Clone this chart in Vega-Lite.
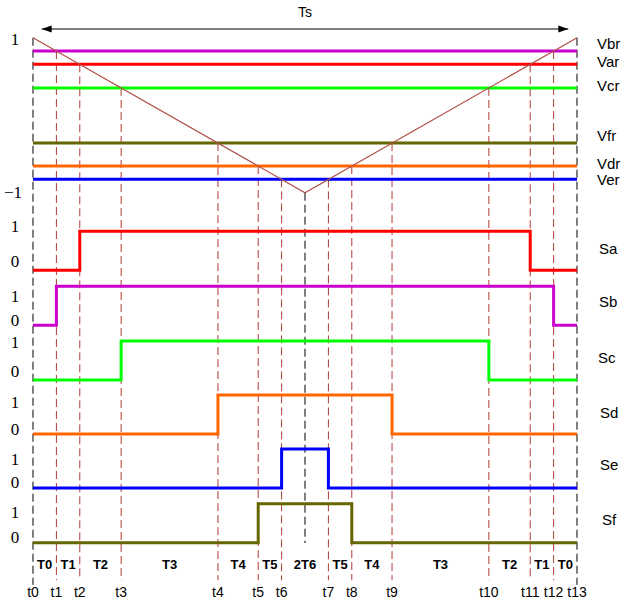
{
  "$schema": "https://vega.github.io/schema/vega-lite/v6.json",
  "width": 624,
  "height": 600,
  "padding": 0,
  "autosize": {"type": "none"},
  "config": {"view": {"stroke": null}, "text": {"font": "Liberation Sans"}},
  "datasets": {
    "carrier": [{"t": 0, "v": 1}, {"t": 0.5, "v": -1}, {"t": 1, "v": 1}],
    "refs": [
      {"name": "Vbr", "level": 0.828},
      {"name": "Var", "level": 0.656},
      {"name": "Vcr", "level": 0.352},
      {"name": "Vfr", "level": -0.36},
      {"name": "Vdr", "level": -0.656},
      {"name": "Ver", "level": -0.828}
    ],
    "instants": [
      {"name": "t0", "t": 0, "level": 1},
      {"name": "t1", "t": 0.043, "level": 0.828},
      {"name": "t2", "t": 0.086, "level": 0.656},
      {"name": "t3", "t": 0.162, "level": 0.352},
      {"name": "t4", "t": 0.34, "level": -0.36},
      {"name": "t5", "t": 0.414, "level": -0.656},
      {"name": "t6", "t": 0.457, "level": -0.828},
      {"name": "t7", "t": 0.543, "level": -0.828},
      {"name": "t8", "t": 0.586, "level": -0.656},
      {"name": "t9", "t": 0.66, "level": -0.36},
      {"name": "t10", "t": 0.838, "level": 0.352},
      {"name": "t11", "t": 0.914, "level": 0.656},
      {"name": "t12", "t": 0.957, "level": 0.828},
      {"name": "t13", "t": 1, "level": 1}
    ],
    "middle": [{"t": 0.5, "level": -1}],
    "intervals": [
      {"label": "T0", "t": 0.0215},
      {"label": "T1", "t": 0.0645},
      {"label": "T2", "t": 0.124},
      {"label": "T3", "t": 0.251},
      {"label": "T4", "t": 0.377},
      {"label": "T5", "t": 0.4355},
      {"label": "2T6", "t": 0.5},
      {"label": "T5", "t": 0.5645},
      {"label": "T4", "t": 0.623},
      {"label": "T3", "t": 0.749},
      {"label": "T2", "t": 0.876},
      {"label": "T1", "t": 0.9355},
      {"label": "T0", "t": 0.9785}
    ],
    "period": [{"from": 0.016, "to": 0.984, "label": "Ts"}],
    "sigs": [{"sig": "Sa"}, {"sig": "Sb"}, {"sig": "Sc"}, {"sig": "Sd"}, {"sig": "Se"}, {"sig": "Sf"}],
    "signals": [
      {"sig": "Sa", "t": 0, "s": 0}, {"sig": "Sa", "t": 0.086, "s": 1}, {"sig": "Sa", "t": 0.914, "s": 0}, {"sig": "Sa", "t": 1, "s": 0},
      {"sig": "Sb", "t": 0, "s": 0}, {"sig": "Sb", "t": 0.043, "s": 1}, {"sig": "Sb", "t": 0.957, "s": 0}, {"sig": "Sb", "t": 1, "s": 0},
      {"sig": "Sc", "t": 0, "s": 0}, {"sig": "Sc", "t": 0.162, "s": 1}, {"sig": "Sc", "t": 0.838, "s": 0}, {"sig": "Sc", "t": 1, "s": 0},
      {"sig": "Sd", "t": 0, "s": 0}, {"sig": "Sd", "t": 0.34, "s": 1}, {"sig": "Sd", "t": 0.66, "s": 0}, {"sig": "Sd", "t": 1, "s": 0},
      {"sig": "Se", "t": 0, "s": 0}, {"sig": "Se", "t": 0.457, "s": 1}, {"sig": "Se", "t": 0.543, "s": 0}, {"sig": "Se", "t": 1, "s": 0},
      {"sig": "Sf", "t": 0, "s": 0}, {"sig": "Sf", "t": 0.414, "s": 1}, {"sig": "Sf", "t": 0.586, "s": 0}, {"sig": "Sf", "t": 1, "s": 0}
    ]
  },
  "layer": [
    {
      "layer": [
        {
          "data": {"name": "instants"},
          "transform": [{"filter": "datum.t > 0 && datum.t < 1"}],
          "mark": {"type": "rule", "color": "#b03a36", "strokeWidth": 1, "strokeDash": [8, 4]},
          "encoding": {
            "x": {"field": "t", "type": "quantitative", "scale": {"domain": [-0.06066, 1.0864], "nice": false, "zero": false}, "axis": null},
            "y": {"field": "level", "type": "quantitative", "scale": {"domain": [-6.2554, 1.4865], "nice": false, "zero": false}, "axis": null},
            "y2": {"datum": -6.0}
          }
        },
        {
          "data": {"name": "instants"},
          "transform": [{"filter": "datum.t == 0 || datum.t == 1"}],
          "mark": {"type": "rule", "color": "#000000", "strokeWidth": 1, "strokeDash": [8, 4]},
          "encoding": {
            "x": {"field": "t", "type": "quantitative", "scale": {"domain": [-0.06066, 1.0864], "nice": false, "zero": false}, "axis": null},
            "y": {"field": "level", "type": "quantitative", "scale": {"domain": [-6.2554, 1.4865], "nice": false, "zero": false}, "axis": null},
            "y2": {"datum": -6.06}
          }
        },
        {
          "data": {"name": "middle"},
          "mark": {"type": "rule", "color": "#000000", "strokeWidth": 1, "strokeDash": [8, 4]},
          "encoding": {
            "x": {"field": "t", "type": "quantitative", "scale": {"domain": [-0.06066, 1.0864], "nice": false, "zero": false}, "axis": null},
            "y": {"field": "level", "type": "quantitative", "scale": {"domain": [-6.2554, 1.4865], "nice": false, "zero": false}, "axis": null},
            "y2": {"datum": -5.52}
          }
        },
        {
          "data": {"name": "refs"},
          "mark": {"type": "rule", "strokeWidth": 3},
          "encoding": {
            "x": {"datum": 0, "type": "quantitative", "scale": {"domain": [-0.06066, 1.0864], "nice": false, "zero": false}, "axis": null},
            "x2": {"datum": 1},
            "y": {"field": "level", "type": "quantitative", "scale": {"domain": [-6.2554, 1.4865], "nice": false, "zero": false}, "axis": null},
            "color": {"field": "name", "type": "nominal", "scale": {"domain": ["Vbr", "Var", "Vcr", "Vfr", "Vdr", "Ver"], "range": ["#cc00cc", "#ff0000", "#00ff00", "#666600", "#ff6600", "#0000ff"]}, "legend": null}
          }
        },
        {
          "data": {"name": "carrier"},
          "mark": {"type": "line", "color": "#b0504a", "strokeWidth": 1.2},
          "encoding": {
            "x": {"field": "t", "type": "quantitative", "scale": {"domain": [-0.06066, 1.0864], "nice": false, "zero": false}, "axis": null},
            "y": {"field": "v", "type": "quantitative", "scale": {"domain": [-6.2554, 1.4865], "nice": false, "zero": false}, "axis": null}
          }
        },
        {
          "data": {"name": "period"},
          "mark": {"type": "rule", "color": "#555555", "strokeWidth": 1.5},
          "encoding": {
            "x": {"field": "from", "type": "quantitative", "scale": {"domain": [-0.06066, 1.0864], "nice": false, "zero": false}, "axis": null},
            "x2": {"field": "to"},
            "y": {"datum": 1.112, "type": "quantitative", "scale": {"domain": [-6.2554, 1.4865], "nice": false, "zero": false}, "axis": null}
          }
        },
        {
          "data": {"name": "period"},
          "mark": {"type": "point", "shape": "M0,0L2,-0.7L2,0.7Z", "size": 100, "filled": true, "color": "#000000", "opacity": 1, "strokeWidth": 0},
          "encoding": {
            "x": {"field": "from", "type": "quantitative", "scale": {"domain": [-0.06066, 1.0864], "nice": false, "zero": false}, "axis": null},
            "y": {"datum": 1.112, "type": "quantitative", "scale": {"domain": [-6.2554, 1.4865], "nice": false, "zero": false}, "axis": null}
          }
        },
        {
          "data": {"name": "period"},
          "mark": {"type": "point", "shape": "M0,0L-2,-0.7L-2,0.7Z", "size": 100, "filled": true, "color": "#000000", "opacity": 1, "strokeWidth": 0},
          "encoding": {
            "x": {"field": "to", "type": "quantitative", "scale": {"domain": [-0.06066, 1.0864], "nice": false, "zero": false}, "axis": null},
            "y": {"datum": 1.112, "type": "quantitative", "scale": {"domain": [-6.2554, 1.4865], "nice": false, "zero": false}, "axis": null}
          }
        },
        {
          "data": {"name": "period"},
          "mark": {"type": "text", "fontSize": 14, "align": "center", "baseline": "middle", "color": "#000000"},
          "encoding": {
            "x": {"datum": 0.5, "type": "quantitative", "scale": {"domain": [-0.06066, 1.0864], "nice": false, "zero": false}, "axis": null},
            "y": {"datum": 1.315, "type": "quantitative", "scale": {"domain": [-6.2554, 1.4865], "nice": false, "zero": false}, "axis": null},
            "text": {"field": "label"}
          }
        },
        {
          "data": {"name": "refs"},
          "transform": [{"filter": "datum.name == 'Vbr' || datum.name == 'Vfr'"}],
          "mark": {"type": "text", "fontSize": 15, "align": "left", "baseline": "middle", "dx": 20, "dy": -7, "color": "#000000"},
          "encoding": {
            "x": {"datum": 1, "type": "quantitative", "scale": {"domain": [-0.06066, 1.0864], "nice": false, "zero": false}, "axis": null},
            "y": {"field": "level", "type": "quantitative", "scale": {"domain": [-6.2554, 1.4865], "nice": false, "zero": false}, "axis": null},
            "text": {"field": "name"}
          }
        },
        {
          "data": {"name": "refs"},
          "transform": [{"filter": "datum.name == 'Var' || datum.name == 'Vcr' || datum.name == 'Vdr'"}],
          "mark": {"type": "text", "fontSize": 15, "align": "left", "baseline": "middle", "dx": 20, "dy": -2, "color": "#000000"},
          "encoding": {
            "x": {"datum": 1, "type": "quantitative", "scale": {"domain": [-0.06066, 1.0864], "nice": false, "zero": false}, "axis": null},
            "y": {"field": "level", "type": "quantitative", "scale": {"domain": [-6.2554, 1.4865], "nice": false, "zero": false}, "axis": null},
            "text": {"field": "name"}
          }
        },
        {
          "data": {"name": "refs"},
          "transform": [{"filter": "datum.name == 'Ver'"}],
          "mark": {"type": "text", "fontSize": 15, "align": "left", "baseline": "middle", "dx": 20, "dy": 1, "color": "#000000"},
          "encoding": {
            "x": {"datum": 1, "type": "quantitative", "scale": {"domain": [-0.06066, 1.0864], "nice": false, "zero": false}, "axis": null},
            "y": {"field": "level", "type": "quantitative", "scale": {"domain": [-6.2554, 1.4865], "nice": false, "zero": false}, "axis": null},
            "text": {"field": "name"}
          }
        },
        {
          "data": {"name": "middle"},
          "mark": {"type": "text", "text": "1", "font": "Liberation Serif", "fontSize": 17, "align": "center", "baseline": "middle", "dx": -18, "dy": 2, "color": "#000000"},
          "encoding": {
            "x": {"datum": 0, "type": "quantitative", "scale": {"domain": [-0.06066, 1.0864], "nice": false, "zero": false}, "axis": null},
            "y": {"datum": 1, "type": "quantitative", "scale": {"domain": [-6.2554, 1.4865], "nice": false, "zero": false}, "axis": null}
          }
        },
        {
          "data": {"name": "middle"},
          "mark": {"type": "text", "text": "−1", "font": "Liberation Serif", "fontSize": 17, "align": "center", "baseline": "middle", "dx": -20, "dy": 0, "color": "#000000"},
          "encoding": {
            "x": {"datum": 0, "type": "quantitative", "scale": {"domain": [-0.06066, 1.0864], "nice": false, "zero": false}, "axis": null},
            "y": {"datum": -1, "type": "quantitative", "scale": {"domain": [-6.2554, 1.4865], "nice": false, "zero": false}, "axis": null}
          }
        },
        {
          "data": {"name": "intervals"},
          "mark": {"type": "text", "fontSize": 13, "fontWeight": "bold", "align": "center", "baseline": "middle", "color": "#000000"},
          "encoding": {
            "x": {"field": "t", "type": "quantitative", "scale": {"domain": [-0.06066, 1.0864], "nice": false, "zero": false}, "axis": null},
            "y": {"datum": -5.804, "type": "quantitative", "scale": {"domain": [-6.2554, 1.4865], "nice": false, "zero": false}, "axis": null},
            "text": {"field": "label"}
          }
        },
        {
          "data": {"name": "instants"},
          "mark": {"type": "text", "fontSize": 14, "align": "center", "baseline": "middle", "color": "#000000"},
          "encoding": {
            "x": {"field": "t", "type": "quantitative", "scale": {"domain": [-0.06066, 1.0864], "nice": false, "zero": false}, "axis": null},
            "y": {"datum": -6.161, "type": "quantitative", "scale": {"domain": [-6.2554, 1.4865], "nice": false, "zero": false}, "axis": null},
            "text": {"field": "name"}
          }
        }
      ]
    },
    {
      "layer": [
        {
          "data": {"name": "signals"},
          "transform": [{"filter": "datum.sig == 'Sa'"}],
          "mark": {"type": "line", "interpolate": "step-after", "color": "#ff0000", "strokeWidth": 3},
          "encoding": {
            "x": {"field": "t", "type": "quantitative", "scale": {"domain": [-0.06066, 1.0864], "nice": false, "zero": false}, "axis": null},
            "y": {"field": "s", "type": "quantitative", "scale": {"domain": [-8.4538, 6.9308], "nice": false, "zero": false}, "axis": null}
          }
        },
        {
          "data": {"name": "sigs"},
          "transform": [{"filter": "datum.sig == 'Sa'"}],
          "mark": {"type": "text", "fontSize": 15, "align": "left", "baseline": "middle", "dx": 22, "dy": -2, "color": "#000000"},
          "encoding": {
            "x": {"datum": 1, "type": "quantitative", "scale": {"domain": [-0.06066, 1.0864], "nice": false, "zero": false}, "axis": null},
            "y": {"datum": 0.5, "type": "quantitative", "scale": {"domain": [-8.4538, 6.9308], "nice": false, "zero": false}, "axis": null},
            "text": {"field": "sig"}
          }
        },
        {
          "data": {"name": "sigs"},
          "transform": [{"filter": "datum.sig == 'Sa'"}],
          "mark": {"type": "text", "text": "1", "font": "Liberation Serif", "fontSize": 17, "align": "center", "baseline": "middle", "dx": -18, "dy": -4, "color": "#000000"},
          "encoding": {
            "x": {"datum": 0, "type": "quantitative", "scale": {"domain": [-0.06066, 1.0864], "nice": false, "zero": false}, "axis": null},
            "y": {"datum": 1, "type": "quantitative", "scale": {"domain": [-8.4538, 6.9308], "nice": false, "zero": false}, "axis": null}
          }
        },
        {
          "data": {"name": "sigs"},
          "transform": [{"filter": "datum.sig == 'Sa'"}],
          "mark": {"type": "text", "text": "0", "font": "Liberation Serif", "fontSize": 17, "align": "center", "baseline": "middle", "dx": -18, "dy": -8, "color": "#000000"},
          "encoding": {
            "x": {"datum": 0, "type": "quantitative", "scale": {"domain": [-0.06066, 1.0864], "nice": false, "zero": false}, "axis": null},
            "y": {"datum": 0, "type": "quantitative", "scale": {"domain": [-8.4538, 6.9308], "nice": false, "zero": false}, "axis": null}
          }
        }
      ]
    },
    {
      "layer": [
        {
          "data": {"name": "signals"},
          "transform": [{"filter": "datum.sig == 'Sb'"}],
          "mark": {"type": "line", "interpolate": "step-after", "color": "#cc00cc", "strokeWidth": 3},
          "encoding": {
            "x": {"field": "t", "type": "quantitative", "scale": {"domain": [-0.06066, 1.0864], "nice": false, "zero": false}, "axis": null},
            "y": {"field": "s", "type": "quantitative", "scale": {"domain": [-7.0436, 8.341], "nice": false, "zero": false}, "axis": null}
          }
        },
        {
          "data": {"name": "sigs"},
          "transform": [{"filter": "datum.sig == 'Sb'"}],
          "mark": {"type": "text", "fontSize": 15, "align": "left", "baseline": "middle", "dx": 22, "dy": -4, "color": "#000000"},
          "encoding": {
            "x": {"datum": 1, "type": "quantitative", "scale": {"domain": [-0.06066, 1.0864], "nice": false, "zero": false}, "axis": null},
            "y": {"datum": 0.5, "type": "quantitative", "scale": {"domain": [-7.0436, 8.341], "nice": false, "zero": false}, "axis": null},
            "text": {"field": "sig"}
          }
        },
        {
          "data": {"name": "sigs"},
          "transform": [{"filter": "datum.sig == 'Sb'"}],
          "mark": {"type": "text", "text": "1", "font": "Liberation Serif", "fontSize": 17, "align": "center", "baseline": "middle", "dx": -18, "dy": 11, "color": "#000000"},
          "encoding": {
            "x": {"datum": 0, "type": "quantitative", "scale": {"domain": [-0.06066, 1.0864], "nice": false, "zero": false}, "axis": null},
            "y": {"datum": 1, "type": "quantitative", "scale": {"domain": [-7.0436, 8.341], "nice": false, "zero": false}, "axis": null}
          }
        },
        {
          "data": {"name": "sigs"},
          "transform": [{"filter": "datum.sig == 'Sb'"}],
          "mark": {"type": "text", "text": "0", "font": "Liberation Serif", "fontSize": 17, "align": "center", "baseline": "middle", "dx": -18, "dy": -4, "color": "#000000"},
          "encoding": {
            "x": {"datum": 0, "type": "quantitative", "scale": {"domain": [-0.06066, 1.0864], "nice": false, "zero": false}, "axis": null},
            "y": {"datum": 0, "type": "quantitative", "scale": {"domain": [-7.0436, 8.341], "nice": false, "zero": false}, "axis": null}
          }
        }
      ]
    },
    {
      "layer": [
        {
          "data": {"name": "signals"},
          "transform": [{"filter": "datum.sig == 'Sc'"}],
          "mark": {"type": "line", "interpolate": "step-after", "color": "#00ff00", "strokeWidth": 3},
          "encoding": {
            "x": {"field": "t", "type": "quantitative", "scale": {"domain": [-0.06066, 1.0864], "nice": false, "zero": false}, "axis": null},
            "y": {"field": "s", "type": "quantitative", "scale": {"domain": [-5.641, 9.7436], "nice": false, "zero": false}, "axis": null}
          }
        },
        {
          "data": {"name": "sigs"},
          "transform": [{"filter": "datum.sig == 'Sc'"}],
          "mark": {"type": "text", "fontSize": 15, "align": "left", "baseline": "middle", "dx": 21, "dy": -3, "color": "#000000"},
          "encoding": {
            "x": {"datum": 1, "type": "quantitative", "scale": {"domain": [-0.06066, 1.0864], "nice": false, "zero": false}, "axis": null},
            "y": {"datum": 0.5, "type": "quantitative", "scale": {"domain": [-5.641, 9.7436], "nice": false, "zero": false}, "axis": null},
            "text": {"field": "sig"}
          }
        },
        {
          "data": {"name": "sigs"},
          "transform": [{"filter": "datum.sig == 'Sc'"}],
          "mark": {"type": "text", "text": "1", "font": "Liberation Serif", "fontSize": 17, "align": "center", "baseline": "middle", "dx": -18, "dy": 2, "color": "#000000"},
          "encoding": {
            "x": {"datum": 0, "type": "quantitative", "scale": {"domain": [-0.06066, 1.0864], "nice": false, "zero": false}, "axis": null},
            "y": {"datum": 1, "type": "quantitative", "scale": {"domain": [-5.641, 9.7436], "nice": false, "zero": false}, "axis": null}
          }
        },
        {
          "data": {"name": "sigs"},
          "transform": [{"filter": "datum.sig == 'Sc'"}],
          "mark": {"type": "text", "text": "0", "font": "Liberation Serif", "fontSize": 17, "align": "center", "baseline": "middle", "dx": -18, "dy": -8, "color": "#000000"},
          "encoding": {
            "x": {"datum": 0, "type": "quantitative", "scale": {"domain": [-0.06066, 1.0864], "nice": false, "zero": false}, "axis": null},
            "y": {"datum": 0, "type": "quantitative", "scale": {"domain": [-5.641, 9.7436], "nice": false, "zero": false}, "axis": null}
          }
        }
      ]
    },
    {
      "layer": [
        {
          "data": {"name": "signals"},
          "transform": [{"filter": "datum.sig == 'Sd'"}],
          "mark": {"type": "line", "interpolate": "step-after", "color": "#ff6600", "strokeWidth": 3},
          "encoding": {
            "x": {"field": "t", "type": "quantitative", "scale": {"domain": [-0.06066, 1.0864], "nice": false, "zero": false}, "axis": null},
            "y": {"field": "s", "type": "quantitative", "scale": {"domain": [-4.2564, 11.1282], "nice": false, "zero": false}, "axis": null}
          }
        },
        {
          "data": {"name": "sigs"},
          "transform": [{"filter": "datum.sig == 'Sd'"}],
          "mark": {"type": "text", "fontSize": 15, "align": "left", "baseline": "middle", "dx": 23, "dy": -2, "color": "#000000"},
          "encoding": {
            "x": {"datum": 1, "type": "quantitative", "scale": {"domain": [-0.06066, 1.0864], "nice": false, "zero": false}, "axis": null},
            "y": {"datum": 0.5, "type": "quantitative", "scale": {"domain": [-4.2564, 11.1282], "nice": false, "zero": false}, "axis": null},
            "text": {"field": "sig"}
          }
        },
        {
          "data": {"name": "sigs"},
          "transform": [{"filter": "datum.sig == 'Sd'"}],
          "mark": {"type": "text", "text": "1", "font": "Liberation Serif", "fontSize": 17, "align": "center", "baseline": "middle", "dx": -18, "dy": 8, "color": "#000000"},
          "encoding": {
            "x": {"datum": 0, "type": "quantitative", "scale": {"domain": [-0.06066, 1.0864], "nice": false, "zero": false}, "axis": null},
            "y": {"datum": 1, "type": "quantitative", "scale": {"domain": [-4.2564, 11.1282], "nice": false, "zero": false}, "axis": null}
          }
        },
        {
          "data": {"name": "sigs"},
          "transform": [{"filter": "datum.sig == 'Sd'"}],
          "mark": {"type": "text", "text": "0", "font": "Liberation Serif", "fontSize": 17, "align": "center", "baseline": "middle", "dx": -18, "dy": -4, "color": "#000000"},
          "encoding": {
            "x": {"datum": 0, "type": "quantitative", "scale": {"domain": [-0.06066, 1.0864], "nice": false, "zero": false}, "axis": null},
            "y": {"datum": 0, "type": "quantitative", "scale": {"domain": [-4.2564, 11.1282], "nice": false, "zero": false}, "axis": null}
          }
        }
      ]
    },
    {
      "layer": [
        {
          "data": {"name": "signals"},
          "transform": [{"filter": "datum.sig == 'Se'"}],
          "mark": {"type": "line", "interpolate": "step-after", "color": "#0000ff", "strokeWidth": 3},
          "encoding": {
            "x": {"field": "t", "type": "quantitative", "scale": {"domain": [-0.06066, 1.0864], "nice": false, "zero": false}, "axis": null},
            "y": {"field": "s", "type": "quantitative", "scale": {"domain": [-2.8718, 12.5128], "nice": false, "zero": false}, "axis": null}
          }
        },
        {
          "data": {"name": "sigs"},
          "transform": [{"filter": "datum.sig == 'Se'"}],
          "mark": {"type": "text", "fontSize": 15, "align": "left", "baseline": "middle", "dx": 23, "dy": -3, "color": "#000000"},
          "encoding": {
            "x": {"datum": 1, "type": "quantitative", "scale": {"domain": [-0.06066, 1.0864], "nice": false, "zero": false}, "axis": null},
            "y": {"datum": 0.5, "type": "quantitative", "scale": {"domain": [-2.8718, 12.5128], "nice": false, "zero": false}, "axis": null},
            "text": {"field": "sig"}
          }
        },
        {
          "data": {"name": "sigs"},
          "transform": [{"filter": "datum.sig == 'Se'"}],
          "mark": {"type": "text", "text": "1", "font": "Liberation Serif", "fontSize": 17, "align": "center", "baseline": "middle", "dx": -18, "dy": 11, "color": "#000000"},
          "encoding": {
            "x": {"datum": 0, "type": "quantitative", "scale": {"domain": [-0.06066, 1.0864], "nice": false, "zero": false}, "axis": null},
            "y": {"datum": 1, "type": "quantitative", "scale": {"domain": [-2.8718, 12.5128], "nice": false, "zero": false}, "axis": null}
          }
        },
        {
          "data": {"name": "sigs"},
          "transform": [{"filter": "datum.sig == 'Se'"}],
          "mark": {"type": "text", "text": "0", "font": "Liberation Serif", "fontSize": 17, "align": "center", "baseline": "middle", "dx": -18, "dy": -5, "color": "#000000"},
          "encoding": {
            "x": {"datum": 0, "type": "quantitative", "scale": {"domain": [-0.06066, 1.0864], "nice": false, "zero": false}, "axis": null},
            "y": {"datum": 0, "type": "quantitative", "scale": {"domain": [-2.8718, 12.5128], "nice": false, "zero": false}, "axis": null}
          }
        }
      ]
    },
    {
      "layer": [
        {
          "data": {"name": "signals"},
          "transform": [{"filter": "datum.sig == 'Sf'"}],
          "mark": {"type": "line", "interpolate": "step-after", "color": "#666600", "strokeWidth": 3},
          "encoding": {
            "x": {"field": "t", "type": "quantitative", "scale": {"domain": [-0.06066, 1.0864], "nice": false, "zero": false}, "axis": null},
            "y": {"field": "s", "type": "quantitative", "scale": {"domain": [-1.4692, 13.9154], "nice": false, "zero": false}, "axis": null}
          }
        },
        {
          "data": {"name": "sigs"},
          "transform": [{"filter": "datum.sig == 'Sf'"}],
          "mark": {"type": "text", "fontSize": 15, "align": "left", "baseline": "middle", "dx": 25, "dy": -3, "color": "#000000"},
          "encoding": {
            "x": {"datum": 1, "type": "quantitative", "scale": {"domain": [-0.06066, 1.0864], "nice": false, "zero": false}, "axis": null},
            "y": {"datum": 0.5, "type": "quantitative", "scale": {"domain": [-1.4692, 13.9154], "nice": false, "zero": false}, "axis": null},
            "text": {"field": "sig"}
          }
        },
        {
          "data": {"name": "sigs"},
          "transform": [{"filter": "datum.sig == 'Sf'"}],
          "mark": {"type": "text", "text": "1", "font": "Liberation Serif", "fontSize": 17, "align": "center", "baseline": "middle", "dx": -18, "dy": 9, "color": "#000000"},
          "encoding": {
            "x": {"datum": 0, "type": "quantitative", "scale": {"domain": [-0.06066, 1.0864], "nice": false, "zero": false}, "axis": null},
            "y": {"datum": 1, "type": "quantitative", "scale": {"domain": [-1.4692, 13.9154], "nice": false, "zero": false}, "axis": null}
          }
        },
        {
          "data": {"name": "sigs"},
          "transform": [{"filter": "datum.sig == 'Sf'"}],
          "mark": {"type": "text", "text": "0", "font": "Liberation Serif", "fontSize": 17, "align": "center", "baseline": "middle", "dx": -18, "dy": -5, "color": "#000000"},
          "encoding": {
            "x": {"datum": 0, "type": "quantitative", "scale": {"domain": [-0.06066, 1.0864], "nice": false, "zero": false}, "axis": null},
            "y": {"datum": 0, "type": "quantitative", "scale": {"domain": [-1.4692, 13.9154], "nice": false, "zero": false}, "axis": null}
          }
        }
      ]
    }
  ],
  "resolve": {"scale": {"y": "independent"}}
}
